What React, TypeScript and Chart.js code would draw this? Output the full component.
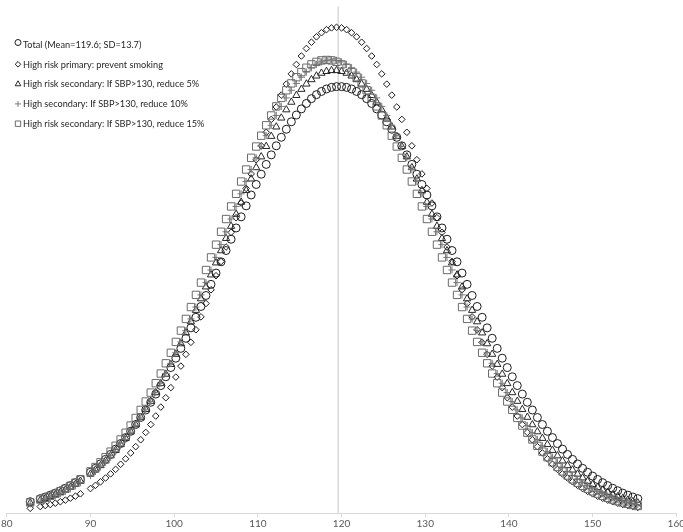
import React, { useEffect, useRef } from 'react';
import { Chart, registerables } from 'chart.js';

Chart.register(...registerables);

// Systolic blood pressure (mmHg) at which each point is plotted
const SBP = [
  82.8, 84.0, 84.6, 85.2, 85.8, 86.4, 87.0, 87.6, 88.2, 88.8,
  90.0, 90.6, 91.2, 91.8, 92.4, 93.0, 93.6, 94.2, 94.8, 95.4,
  96.0, 96.6, 97.2, 97.8, 98.4, 99.0, 99.6, 100.2, 100.8, 101.4,
  102.0, 102.6, 103.2, 103.8, 104.4, 105.0, 105.6, 106.2, 106.8, 107.4,
  108.0, 108.6, 109.2, 109.8, 110.4, 111.0, 111.6, 112.2, 112.8, 113.4,
  114.0, 114.6, 115.2, 115.8, 116.4, 117.0, 117.6, 118.2, 118.8, 119.4,
  120.0, 120.6, 121.2, 121.8, 122.4, 123.0, 123.6, 124.2, 124.8, 125.4,
  126.0, 126.6, 127.2, 127.8, 128.4, 129.0, 129.6, 130.2, 130.8, 131.4,
  132.0, 132.6, 133.2, 133.8, 134.4, 135.0, 135.6, 136.2, 136.8, 137.4,
  138.0, 138.6, 139.2, 139.8, 140.4, 141.0, 141.6, 142.2, 142.8, 143.4,
  144.0, 144.6, 145.2, 145.8, 146.4, 147.0, 147.6, 148.2, 148.8, 149.4,
  150.0, 150.6, 151.2, 151.8, 152.4, 153.0, 153.6, 154.2, 154.8, 155.4,
];

// Density (x1000) for each series
const TOTAL = [
  0.77, 0.98, 1.09, 1.22, 1.36, 1.52, 1.69, 1.87, 2.07, 2.29,
  2.78, 3.05, 3.35, 3.66, 4.00, 4.36, 4.74, 5.15, 5.58, 6.04,
  6.52, 7.03, 7.56, 8.12, 8.70, 9.30, 9.93, 10.57, 11.24, 11.93,
  12.64, 13.36, 14.10, 14.85, 15.61, 16.38, 17.15, 17.92, 18.69, 19.46,
  20.22, 20.97, 21.71, 22.43, 23.13, 23.80, 24.45, 25.07, 25.65, 26.20,
  26.71, 27.17, 27.59, 27.96, 28.29, 28.56, 28.78, 28.95, 29.06, 29.11,
  29.11, 29.06, 28.95, 28.78, 28.56, 28.29, 27.96, 27.59, 27.17, 26.71,
  26.20, 25.65, 25.07, 24.45, 23.80, 23.13, 22.43, 21.71, 20.97, 20.22,
  19.46, 18.69, 17.92, 17.15, 16.38, 15.61, 14.85, 14.10, 13.36, 12.64,
  11.93, 11.24, 10.57, 9.93, 9.30, 8.70, 8.12, 7.56, 7.03, 6.52,
  6.04, 5.58, 5.15, 4.74, 4.36, 4.00, 3.66, 3.35, 3.05, 2.78,
  2.52, 2.29, 2.07, 1.87, 1.69, 1.52, 1.36, 1.22, 1.09, 0.98,
];

const PREVENT_SMOKING = [
  0.32, 0.44, 0.51, 0.58, 0.67, 0.77, 0.88, 1.01, 1.15, 1.31,
  1.67, 1.89, 2.13, 2.39, 2.67, 2.98, 3.33, 3.70, 4.10, 4.53,
  5.00, 5.50, 6.04, 6.62, 7.23, 7.87, 8.56, 9.28, 10.03, 10.83,
  11.65, 12.51, 13.39, 14.30, 15.24, 16.20, 17.17, 18.16, 19.16, 20.16,
  21.16, 22.16, 23.15, 24.12, 25.07, 25.99, 26.87, 27.72, 28.53, 29.28,
  29.98, 30.62, 31.20, 31.71, 32.14, 32.51, 32.79, 33.00, 33.12, 33.16,
  33.12, 33.00, 32.79, 32.51, 32.14, 31.71, 31.20, 30.62, 29.98, 29.28,
  28.53, 27.72, 26.87, 25.99, 25.07, 24.12, 23.15, 22.16, 21.16, 20.16,
  19.16, 18.16, 17.17, 16.20, 15.24, 14.30, 13.39, 12.51, 11.65, 10.83,
  10.03, 9.28, 8.56, 7.87, 7.23, 6.62, 6.04, 5.50, 5.00, 4.53,
  4.10, 3.70, 3.33, 2.98, 2.67, 2.39, 2.13, 1.89, 1.67, 1.48,
  1.31, 1.15, 1.01, 0.88, 0.77, 0.67, 0.58, 0.51, 0.44, 0.38,
];

const REDUCE_5 = [
  0.69, 0.88, 0.99, 1.12, 1.25, 1.41, 1.57, 1.75, 1.95, 2.17,
  2.66, 2.94, 3.24, 3.56, 3.91, 4.28, 4.68, 5.10, 5.55, 6.03,
  6.54, 7.07, 7.63, 8.22, 8.84, 9.48, 10.15, 10.84, 11.56, 12.30,
  13.06, 13.84, 14.63, 15.44, 16.26, 17.08, 17.91, 18.75, 19.58, 20.40,
  21.22, 22.02, 22.81, 23.58, 24.32, 25.03, 25.72, 26.36, 26.97, 27.53,
  28.05, 28.51, 28.93, 29.29, 29.59, 29.84, 30.03, 30.15, 30.21, 30.21,
  30.15, 30.03, 29.84, 29.59, 29.29, 28.93, 28.51, 28.05, 27.53, 26.97,
  26.36, 25.72, 25.03, 24.32, 23.58, 22.81, 22.02, 21.22, 20.40, 19.58,
  18.75, 17.91, 17.08, 16.26, 15.44, 14.63, 13.84, 13.06, 12.30, 11.56,
  10.84, 10.15, 9.48, 8.84, 8.22, 7.63, 7.07, 6.54, 6.03, 5.55,
  5.10, 4.68, 4.28, 3.91, 3.56, 3.24, 2.94, 2.66, 2.40, 2.17,
  1.95, 1.75, 1.57, 1.41, 1.25, 1.12, 0.99, 0.88, 0.78, 0.69,
];

const REDUCE_10 = [
  0.63, 0.81, 0.92, 1.04, 1.17, 1.32, 1.48, 1.66, 1.86, 2.07,
  2.56, 2.84, 3.14, 3.46, 3.81, 4.19, 4.59, 5.02, 5.48, 5.97,
  6.49, 7.04, 7.61, 8.22, 8.86, 9.52, 10.22, 10.94, 11.68, 12.45,
  13.25, 14.06, 14.89, 15.73, 16.59, 17.45, 18.32, 19.20, 20.07, 20.93,
  21.79, 22.63, 23.45, 24.25, 25.02, 25.76, 26.47, 27.14, 27.76, 28.34,
  28.86, 29.33, 29.75, 30.10, 30.40, 30.63, 30.80, 30.90, 30.93, 30.90,
  30.80, 30.63, 30.40, 30.10, 29.75, 29.33, 28.86, 28.34, 27.76, 27.14,
  26.47, 25.76, 25.02, 24.25, 23.45, 22.63, 21.79, 20.93, 20.07, 19.20,
  18.32, 17.45, 16.59, 15.73, 14.89, 14.06, 13.25, 12.45, 11.68, 10.94,
  10.22, 9.52, 8.86, 8.22, 7.61, 7.04, 6.49, 5.97, 5.48, 5.02,
  4.59, 4.19, 3.81, 3.46, 3.14, 2.84, 2.56, 2.30, 2.07, 1.86,
  1.66, 1.48, 1.32, 1.17, 1.04, 0.92, 0.81, 0.72, 0.63, 0.55,
];

const REDUCE_15 = [
  0.72, 0.92, 1.04, 1.17, 1.32, 1.48, 1.66, 1.86, 2.07, 2.30,
  2.84, 3.14, 3.46, 3.81, 4.19, 4.59, 5.02, 5.48, 5.97, 6.49,
  7.04, 7.61, 8.22, 8.86, 9.52, 10.22, 10.94, 11.68, 12.45, 13.25,
  14.06, 14.89, 15.73, 16.59, 17.45, 18.32, 19.20, 20.07, 20.93, 21.79,
  22.63, 23.45, 24.25, 25.02, 25.76, 26.47, 27.14, 27.76, 28.34, 28.86,
  29.33, 29.75, 30.10, 30.40, 30.63, 30.80, 30.90, 30.93, 30.90, 30.80,
  30.63, 30.40, 30.10, 29.75, 29.33, 28.86, 28.34, 27.76, 27.14, 26.47,
  25.76, 25.02, 24.25, 23.45, 22.63, 21.79, 20.93, 20.07, 19.20, 18.32,
  17.45, 16.59, 15.73, 14.89, 14.06, 13.25, 12.45, 11.68, 10.94, 10.22,
  9.52, 8.86, 8.22, 7.61, 7.04, 6.49, 5.97, 5.48, 5.02, 4.59,
  4.19, 3.81, 3.46, 3.14, 2.84, 2.56, 2.30, 2.07, 1.86, 1.66,
  1.48, 1.32, 1.17, 1.04, 0.92, 0.81, 0.72, 0.63, 0.55, 0.48,
];

const SERIES_LABELS = [
  'Total (Mean=119.6; SD=13.7)',
  'High risk primary: prevent smoking',
  'High risk secondary: If SBP>130, reduce 5%',
  'High secondary: If SBP>130, reduce 10%',
  'High risk secondary: If SBP>130, reduce 15%',
];
const SERIES_VALUES = [TOTAL, PREVENT_SMOKING, REDUCE_5, REDUCE_10, REDUCE_15];
const MEAN_SBP = 119.6;
const X_TICKS = [80, 90, 100, 110, 120, 130, 140, 150, 160];
const Y_RANGE = [0, 34.6];

const STYLES = [
  { pointStyle: 'circle', color: '#1a1a1a', radius: 4, legendRadius: 3 },
  { pointStyle: 'rectRot', color: '#1a1a1a', radius: 3.3, legendRadius: 2.8 },
  { pointStyle: 'triangle', color: '#262626', radius: 4.2, legendRadius: 3.3 },
  { pointStyle: 'cross', color: '#7a7a7a', radius: 3.6, legendRadius: 3 },
  { pointStyle: 'rect', color: '#6b6b6b', radius: 5.2, legendRadius: 3.8 },
];

const FONT = 'Lato, "Liberation Sans", sans-serif';

function drawMarker(ctx: CanvasRenderingContext2D, style: string, x: number, y: number, r: number, color: string) {
  ctx.save();
  ctx.strokeStyle = color;
  ctx.lineWidth = 1;
  ctx.beginPath();
  if (style === 'circle') {
    ctx.arc(x, y, r, 0, Math.PI * 2);
  } else if (style === 'rectRot') {
    ctx.moveTo(x - r, y);
    ctx.lineTo(x, y - r);
    ctx.lineTo(x + r, y);
    ctx.lineTo(x, y + r);
    ctx.closePath();
  } else if (style === 'triangle') {
    const h = r * Math.sqrt(3) / 2;
    ctx.moveTo(x, y - r);
    ctx.lineTo(x + h, y + r / 2);
    ctx.lineTo(x - h, y + r / 2);
    ctx.closePath();
  } else if (style === 'cross') {
    ctx.moveTo(x - r, y);
    ctx.lineTo(x + r, y);
    ctx.moveTo(x, y - r);
    ctx.lineTo(x, y + r);
  } else {
    const s = r * Math.SQRT1_2;
    ctx.rect(x - s, y - s, 2 * s, 2 * s);
  }
  ctx.stroke();
  ctx.restore();
}

const insideLegend = {
  id: 'insideLegend',
  afterDraw(chart: any) {
    const ctx: CanvasRenderingContext2D = chart.ctx;
    SERIES_LABELS.forEach((label, i) => {
      const y = 44.5 + i * 19.8;
      const st = STYLES[i];
      drawMarker(ctx, st.pointStyle, 18, i === 0 ? y - 2 : y, st.legendRadius, st.color);
      ctx.save();
      ctx.font = `10.3px ${FONT}`;
      ctx.fillStyle = '#262626';
      ctx.textBaseline = 'middle';
      ctx.textAlign = 'left';
      ctx.translate(23, y);
      ctx.scale(0.89, 1);
      ctx.fillText(label, 0, 0);
      ctx.restore();
    });
  },
};

export default function App() {
  const ref = useRef<HTMLCanvasElement | null>(null);

  useEffect(() => {
    if (!ref.current) return;
    const datasets: any[] = SERIES_VALUES.map((vals, i) => ({
      label: SERIES_LABELS[i],
      data: SBP.map((x, j) => ({ x, y: vals[j] })),
      pointStyle: STYLES[i].pointStyle,
      pointRadius: STYLES[i].radius,
      pointBorderColor: STYLES[i].color,
      pointBackgroundColor: 'rgba(0,0,0,0)',
      pointBorderWidth: 1,
      showLine: false,
      order: 5 - i,
    }));
    datasets.push({
      label: 'mean',
      data: [
        { x: MEAN_SBP, y: Y_RANGE[0] },
        { x: MEAN_SBP, y: Y_RANGE[1] },
      ],
      showLine: true,
      borderColor: '#d9d9d9',
      borderWidth: 1.5,
      pointRadius: 0,
      order: 6,
    });

    const chart = new Chart(ref.current, {
      type: 'scatter',
      data: { datasets },
      plugins: [insideLegend],
      options: {
        responsive: false,
        animation: false,
        events: [],
        layout: { padding: { top: 2, bottom: 1, left: 0, right: 0 } },
        plugins: {
          legend: { display: false },
          tooltip: { enabled: false },
          title: { display: false },
        },
        scales: {
          x: {
            type: 'linear',
            min: X_TICKS[0],
            max: X_TICKS[X_TICKS.length - 1],
            afterBuildTicks: (scale: any) => {
              scale.ticks = X_TICKS.map((v) => ({ value: v }));
            },
            ticks: {
              color: '#595959',
              font: { family: FONT, size: 10 },
              padding: 1,
              maxRotation: 0,
            },
            grid: {
              drawOnChartArea: false,
              drawTicks: true,
              tickLength: 4,
              color: '#d9d9d9',
            },
            border: { color: '#d9d9d9', width: 1 },
          },
          y: {
            display: false,
            min: Y_RANGE[0],
            max: Y_RANGE[1],
          },
        },
      },
    } as any);
    return () => chart.destroy();
  }, []);

  return (
    <div style={{ position: 'absolute', left: 0, top: 0, width: 683, height: 532, overflow: 'hidden', background: '#fff' }}>
      <canvas ref={ref} width={686} height={532} style={{ display: 'block' }} />
    </div>
  );
}
